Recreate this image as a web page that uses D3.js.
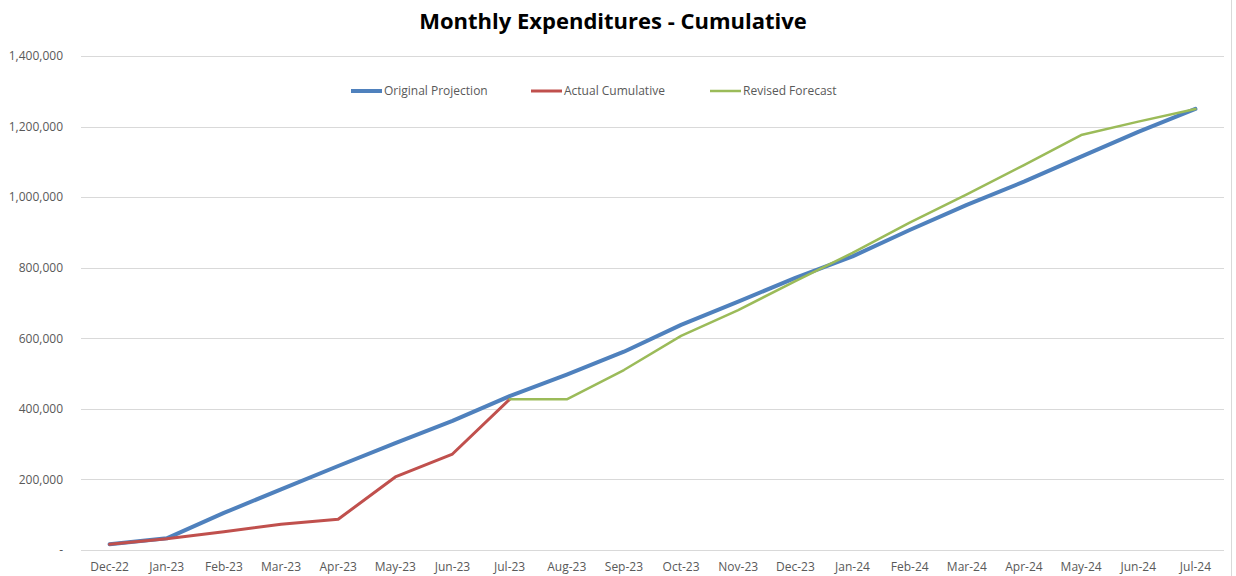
<!DOCTYPE html>
<html lang="en">
<head>
    <meta charset="UTF-8">
    <title>Monthly Expenditures - Cumulative</title>
    <script src="https://d3js.org/d3.v7.min.js"></script>
    <style>
        body { margin: 0; background: #fff; }
        text { font-family: "Open Sans", "Liberation Sans", sans-serif; }
    </style>
</head>
<body>
    <div id="chart"></div>
    <script>
        // categories and series
        const months = ["Dec-22", "Jan-23", "Feb-23", "Mar-23", "Apr-23", "May-23", "Jun-23", "Jul-23",
            "Aug-23", "Sep-23", "Oct-23", "Nov-23", "Dec-23", "Jan-24", "Feb-24", "Mar-24", "Apr-24",
            "May-24", "Jun-24", "Jul-24"];
        const originalProjection = [16000, 33000, 105000, 172000, 238000, 303000, 366000, 436000,
            497000, 562000, 638000, 704000, 771000, 832000, 907000, 978000, 1044000, 1115000, 1185000, 1250000];
        const actualCumulative = [16000, 32000, 52000, 73000, 87000, 207000, 272000, 427000];
        const revisedForecast = [null, null, null, null, null, null, null, 427000,
            427000, 510000, 607000, 680000, 762000, 842000, 928000, 1008000, 1091000, 1176000, 1214000, 1250000];
        const yTicks = [0, 200000, 400000, 600000, 800000, 1000000, 1200000, 1400000];

        const W = 1236, H = 576;
        const plotLeft = 81, plotRight = 1224, plotTop = 56, plotBottom = 550;

        const svg = d3.select("#chart").append("svg")
            .attr("width", W).attr("height", H);

        const x = d3.scaleBand().domain(months).range([plotLeft, plotRight]);
        const y = d3.scaleLinear().domain([0, 1400000]).range([plotBottom, plotTop]);
        const cx = d => x(d) + x.bandwidth() / 2;

        // title
        svg.append("text")
            .attr("x", 613).attr("y", 29)
            .attr("text-anchor", "middle")
            .style("font-size", "22px").style("font-weight", "bold")
            .attr("fill", "#000")
            .text("Monthly Expenditures - Cumulative");

        // right border of the chart area
        svg.append("line")
            .attr("x1", 1231.5).attr("x2", 1231.5).attr("y1", 0).attr("y2", H)
            .attr("stroke", "#d9d9d9");

        // gridlines
        svg.append("g").selectAll("line").data(yTicks).join("line")
            .attr("x1", plotLeft).attr("x2", plotRight)
            .attr("y1", d => Math.round(y(d)) + 0.5).attr("y2", d => Math.round(y(d)) + 0.5)
            .attr("stroke", "#d9d9d9");

        // y axis labels
        const yAxis = svg.append("g")
            .attr("transform", "translate(" + (plotLeft - 15) + ",0)")
            .call(d3.axisLeft(y).tickValues(yTicks).tickSize(0)
                .tickFormat(d => d === 0 ? "-" : d3.format(",")(d)));
        yAxis.select(".domain").remove();
        yAxis.selectAll("text").attr("fill", "#595959").style("font-size", "12px")
            .attr("font-family", null);

        // x axis labels
        const xAxis = svg.append("g")
            .attr("transform", "translate(0," + plotBottom + ")")
            .call(d3.axisBottom(x).tickSize(0).tickPadding(12));
        xAxis.select(".domain").remove();
        xAxis.selectAll("text").attr("fill", "#595959").style("font-size", "12px")
            .attr("font-family", null);

        const series = [
            { name: "Original Projection", values: originalProjection, color: "#4f81bd", width: 4 },
            { name: "Actual Cumulative", values: actualCumulative, color: "#c0504d", width: 3 },
            { name: "Revised Forecast", values: revisedForecast, color: "#9bbb59", width: 2.5 }
        ];

        const line = d3.line()
            .defined(d => d.v !== null)
            .x(d => cx(d.m))
            .y(d => y(d.v));

        // draw blue first, then red, then green on top
        series.forEach(s => {
            const pts = s.values.map((v, i) => ({ m: months[i], v: v }));
            svg.append("path")
                .datum(pts)
                .attr("d", line)
                .attr("fill", "none")
                .attr("stroke", s.color)
                .attr("stroke-width", s.width)
                .attr("stroke-linejoin", "round")
                .attr("stroke-linecap", "round");
        });

        // legend
        const legendX = [351, 531, 710];
        const legend = svg.append("g").selectAll("g").data(series).join("g")
            .attr("transform", (d, i) => "translate(" + legendX[i] + ",91)");
        legend.append("line")
            .attr("x1", 0).attr("x2", 31).attr("y1", 0).attr("y2", 0)
            .attr("stroke", d => d.color).attr("stroke-width", d => d.width);
        legend.append("text")
            .attr("x", 33).attr("y", 4)
            .attr("fill", "#595959").style("font-size", "12px")
            .text(d => d.name);
    </script>
</body>
</html>
